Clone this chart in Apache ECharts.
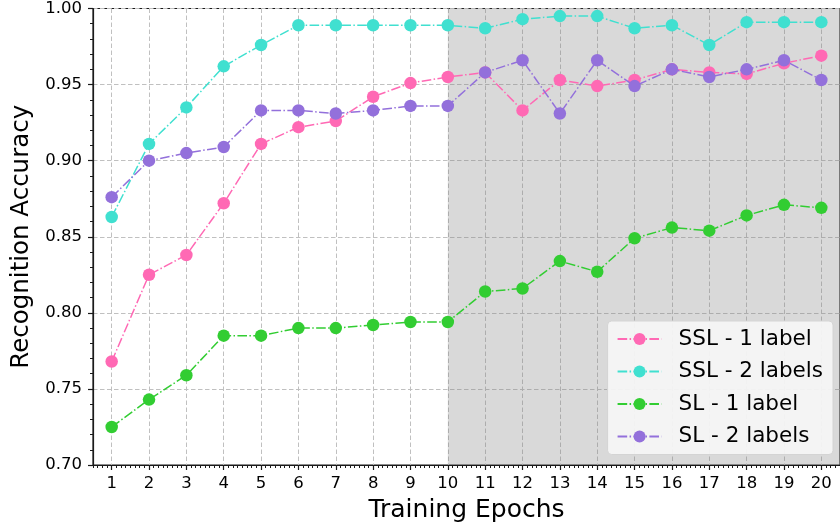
<!DOCTYPE html>
<html>
<head>
<meta charset="utf-8">
<script src="https://cdn.jsdelivr.net/npm/echarts@6/dist/echarts.min.js"></script>
<style>
  html, body { margin: 0; padding: 0; background: #fff; }
  #chart { width: 840px; height: 531px; }
</style>
</head>
<body>
<div id="chart"></div>
<script>
// Epochs on the x axis
const epochs = ['1','2','3','4','5','6','7','8','9','10','11','12','13','14','15','16','17','18','19','20'];

// Recognition accuracy per epoch
const ssl1Label = [0.768, 0.825, 0.838, 0.872, 0.911, 0.922, 0.926, 0.942, 0.951, 0.955,
                   0.958, 0.933, 0.953, 0.949, 0.953, 0.960, 0.958, 0.957, 0.964, 0.969];
const ssl2Labels = [0.863, 0.911, 0.935, 0.962, 0.976, 0.989, 0.989, 0.989, 0.989, 0.989,
                    0.987, 0.993, 0.995, 0.995, 0.987, 0.989, 0.976, 0.991, 0.991, 0.991];
const sl1Label = [0.725, 0.743, 0.759, 0.785, 0.785, 0.790, 0.790, 0.792, 0.794, 0.794,
                  0.814, 0.816, 0.834, 0.827, 0.849, 0.856, 0.854, 0.864, 0.871, 0.869];
const sl2Labels = [0.876, 0.900, 0.905, 0.909, 0.933, 0.933, 0.931, 0.933, 0.936, 0.936,
                   0.958, 0.966, 0.931, 0.966, 0.949, 0.960, 0.955, 0.960, 0.966, 0.953];

const seriesNames = ['SSL - 1 label', 'SSL - 2 labels', 'SL - 1 label', 'SL - 2 labels'];
const seriesColors = ['#ff69b4', '#40e0d0', '#32cd32', '#9370db'];
const seriesValues = [ssl1Label, ssl2Labels, sl1Label, sl2Labels];

// Shaded span starts at this epoch and runs to the right edge
const shadeFromEpoch = 10;

// y axis ticks
const yMin = 0.70, yMax = 1.00, yStep = 0.05;

const FONT = 'DejaVu Sans';
const dashDot = [9.6, 2.4, 1.5, 2.4];
const gridDash = [4.5, 2.5];

const chart = echarts.init(document.getElementById('chart'), null, { renderer: 'canvas' });

const lineSeries = seriesNames.map((name, i) => ({
  name: name,
  type: 'line',
  xAxisIndex: 0,
  yAxisIndex: 0,
  data: seriesValues[i],
  symbol: 'circle',
  symbolSize: 12.5,
  showSymbol: true,
  itemStyle: { color: seriesColors[i], borderWidth: 0 },
  lineStyle: { color: seriesColors[i], width: 1.5, type: dashDot },
  emphasis: { disabled: true },
  z: 3 + i
}));

// Carries the shaded span on the boundary-based helper axis
const shadeSeries = {
  type: 'line',
  xAxisIndex: 1,
  yAxisIndex: 0,
  data: [],
  silent: true,
  markArea: {
    silent: true,
    itemStyle: { color: 'rgba(128,128,128,0.3)' },
    data: [[{ xAxis: shadeFromEpoch - 0.5 }, { xAxis: epochs.length }]]
  },
  z: 1
};

const option = {
  animation: false,
  backgroundColor: '#ffffff',
  textStyle: { fontFamily: FONT },
  grid: {
    left: 93, top: 7, width: 752.6, height: 458,
    show: true, borderColor: '#1a1a1a', borderWidth: 1.2, backgroundColor: 'transparent'
  },
  legend: {
    data: seriesNames,
    orient: 'vertical',
    right: 7,
    top: 321,
    padding: [7, 10, 7, 9],
    itemGap: 10.5,
    itemWidth: 44,
    itemHeight: 15,
    backgroundColor: 'rgba(246,246,246,0.92)',
    borderColor: '#d4d4d4',
    borderWidth: 1,
    borderRadius: 4,
    textStyle: { fontFamily: FONT, fontSize: 21.5, color: '#000', padding: [0, 0, 0, 12] }
  },
  xAxis: [
    {
      type: 'category',
      data: epochs,
      boundaryGap: true,
      position: 'bottom',
      name: 'Training Epochs',
      nameLocation: 'middle',
      nameGap: 33,
      nameTextStyle: { fontFamily: FONT, fontSize: 25, color: '#000' },
      axisLine: { show: true, lineStyle: { color: '#1a1a1a', width: 1.2 } },
      axisTick: { show: true, alignWithLabel: true, length: 5, lineStyle: { color: '#1a1a1a', width: 1.2 } },
      axisLabel: { fontFamily: FONT, fontSize: 16.5, color: '#000', margin: 10, interval: 0 },
      splitLine: { show: true, alignWithLabel: true, lineStyle: { color: '#c0c0c0', width: 1, type: gridDash } }
    },
    {
      // helper axis on epoch boundaries, used for the minor ticks and the shaded span
      type: 'value',
      min: 0,
      max: epochs.length,
      interval: 1,
      position: 'bottom',
      axisLine: { show: false },
      axisLabel: { show: false },
      splitLine: { show: false },
      axisTick: { show: true, length: 3, lineStyle: { color: '#1a1a1a', width: 1 } },
      minorTick: { show: true, splitNumber: 8, length: 3, lineStyle: { color: '#1a1a1a', width: 1 } },
      minorSplitLine: { show: false }
    }
  ],
  yAxis: {
    type: 'value',
    min: yMin,
    max: yMax,
    interval: yStep,
    name: 'Recognition Accuracy',
    nameLocation: 'middle',
    nameGap: 53,
    nameTextStyle: { fontFamily: FONT, fontSize: 24.5, color: '#000' },
    axisLine: { show: true, lineStyle: { color: '#1a1a1a', width: 1.2 } },
    axisTick: { show: true, length: 5, lineStyle: { color: '#1a1a1a', width: 1.2 } },
    minorTick: { show: true, splitNumber: 5, length: 3, lineStyle: { color: '#1a1a1a', width: 1 } },
    axisLabel: {
      fontFamily: FONT, fontSize: 16.5, color: '#000', margin: 11,
      formatter: v => v.toFixed(2)
    },
    splitLine: { show: true, lineStyle: { color: '#c0c0c0', width: 1, type: gridDash } }
  },
  series: [shadeSeries].concat(lineSeries)
};

chart.setOption(option);
</script>
</body>
</html>
